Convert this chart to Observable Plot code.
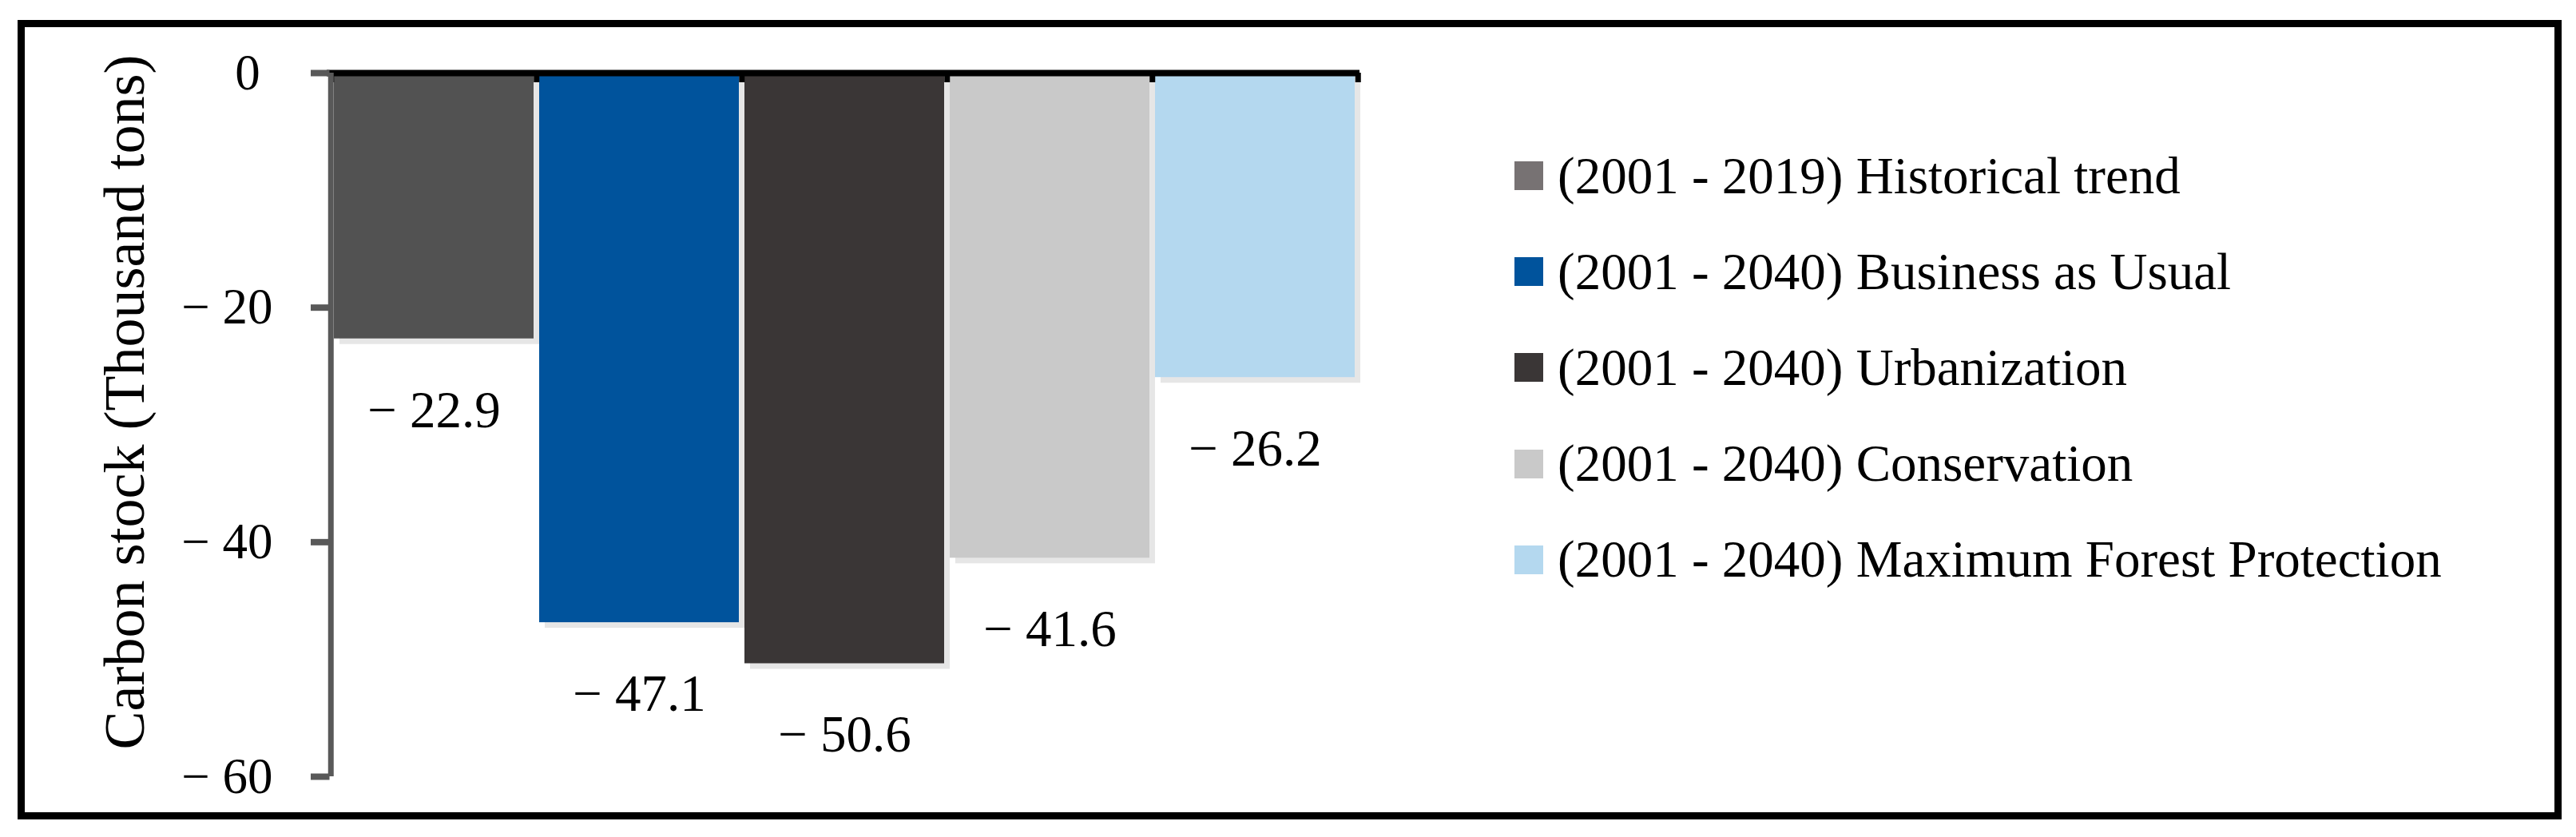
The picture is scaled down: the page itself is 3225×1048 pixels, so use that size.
<!DOCTYPE html>
<html>
<head>
<meta charset="utf-8">
<script src="https://cdn.jsdelivr.net/npm/d3@7"></script>
<script src="https://cdn.jsdelivr.net/npm/@observablehq/plot@0.6"></script>
<style>
  html, body { margin: 0; padding: 0; background: #ffffff; }
  #page { position: relative; width: 3225px; height: 1048px; overflow: hidden; background: #fff; }
  #frame { position: absolute; left: 22px; top: 25px; width: 3185px; height: 1001px; border: 9px solid #000; box-sizing: border-box; }
  #chart { position: absolute; left: 0; top: 0; }
  #legend { position: absolute; left: 1896px; top: 160px; font-family: "Liberation Serif", serif; font-size: 65px; color: #000; }
  .row { height: 120.2px; display: flex; align-items: center; white-space: nowrap; }
  .sw { width: 36px; height: 36px; margin-right: 18px; flex: none; }
</style>
</head>
<body>
<div id="page">
  <div id="frame"></div>
  <div id="chart"></div>
  <div id="legend"></div>
</div>
<script>
const categories = [
  "(2001 - 2019) Historical trend",
  "(2001 - 2040) Business as Usual",
  "(2001 - 2040) Urbanization",
  "(2001 - 2040) Conservation",
  "(2001 - 2040) Maximum Forest Protection"
];
const values = [-22.9, -47.1, -50.6, -41.6, -26.2];
const barColors = ["#525252", "#00539c", "#3a3636", "#c9c9c9", "#b4d8ef"];
const legendColors = ["#777273", "#00539c", "#3a3636", "#c9c9c9", "#b4d8ef"];
const yTicks = [0, -20, -40, -60];
const yDomain = [-60, 0];
const yLabel = "Carbon stock (Thousand tons)";

const data = categories.map((c, i) => ({category: c, value: values[i], color: barColors[i]}));

const W = 1850, H = 1048, mL = 416.5, mR = 146, mT = 91, mB = 76;
const step = (W - mL - mR) / categories.length;
const fmt = v => v === 0 ? "0\u00a0" : "\u2212 " + Math.abs(v);
const fmtVal = v => "\u2212 " + Math.abs(v).toFixed(1);

const chart = Plot.plot({
  width: W, height: H,
  marginTop: mT, marginBottom: mB, marginLeft: mL, marginRight: mR,
  style: {fontFamily: "'Liberation Serif', serif", fontSize: "63px", background: "transparent", overflow: "visible", color: "#000"},
  x: {domain: categories, padding: 0, axis: null},
  y: {domain: yDomain, axis: null},
  color: {type: "identity"},
  marks: [
    Plot.barY(data, {x: "category", y: "value", fill: "#e6e6e6", dx: 7, insetRight: 7, insetBottom: -3.5}),
    Plot.barY(data, {x: "category", y: "value", fill: "color", insetRight: 7, insetBottom: 3.5}),
    Plot.ruleY([0], {stroke: "#000", strokeWidth: 8, insetLeft: -7.5, insetRight: 2}),
    Plot.ruleX(categories, {x: d => d, y1: 0, y2: 0, insetBottom: -12, dx: -step / 2 - 3.5, stroke: "#000", strokeWidth: 7}),
    Plot.ruleX(categories.slice(-1), {x: d => d, y1: 0, y2: 0, insetBottom: -12, dx: step / 2 - 3.5, stroke: "#000", strokeWidth: 7}),
    Plot.ruleX(categories.slice(0, 1), {x: d => d, y1: yDomain[0], y2: yDomain[1], dx: -step / 2 - 4, stroke: "#595959", strokeWidth: 7}),
    Plot.axisY(yTicks, {anchor: "left", tickSize: 23.5, tickPadding: 48, dx: -4, stroke: "#595959", strokeWidth: 8, fill: "#000", tickFormat: fmt, fontSize: 63, label: null}),
    Plot.text(data, {x: "category", y: "value", text: d => fmtVal(d.value), dy: 86, dx: -3.5, fontSize: 65, fill: "#000"}),
    Plot.text([yLabel], {frameAnchor: "left", text: d => d, rotate: -90, dx: -260.5, dy: -28.5, fontSize: 72, textAnchor: "middle", lineAnchor: "middle", fill: "#000"})
  ]
});
document.getElementById("chart").appendChild(chart);

const legend = document.getElementById("legend");
categories.forEach((c, i) => {
  const row = document.createElement("div");
  row.className = "row";
  const sw = document.createElement("div");
  sw.className = "sw";
  sw.style.background = legendColors[i];
  const t = document.createElement("span");
  t.textContent = c;
  row.appendChild(sw);
  row.appendChild(t);
  legend.appendChild(row);
});
</script>
</body>
</html>
